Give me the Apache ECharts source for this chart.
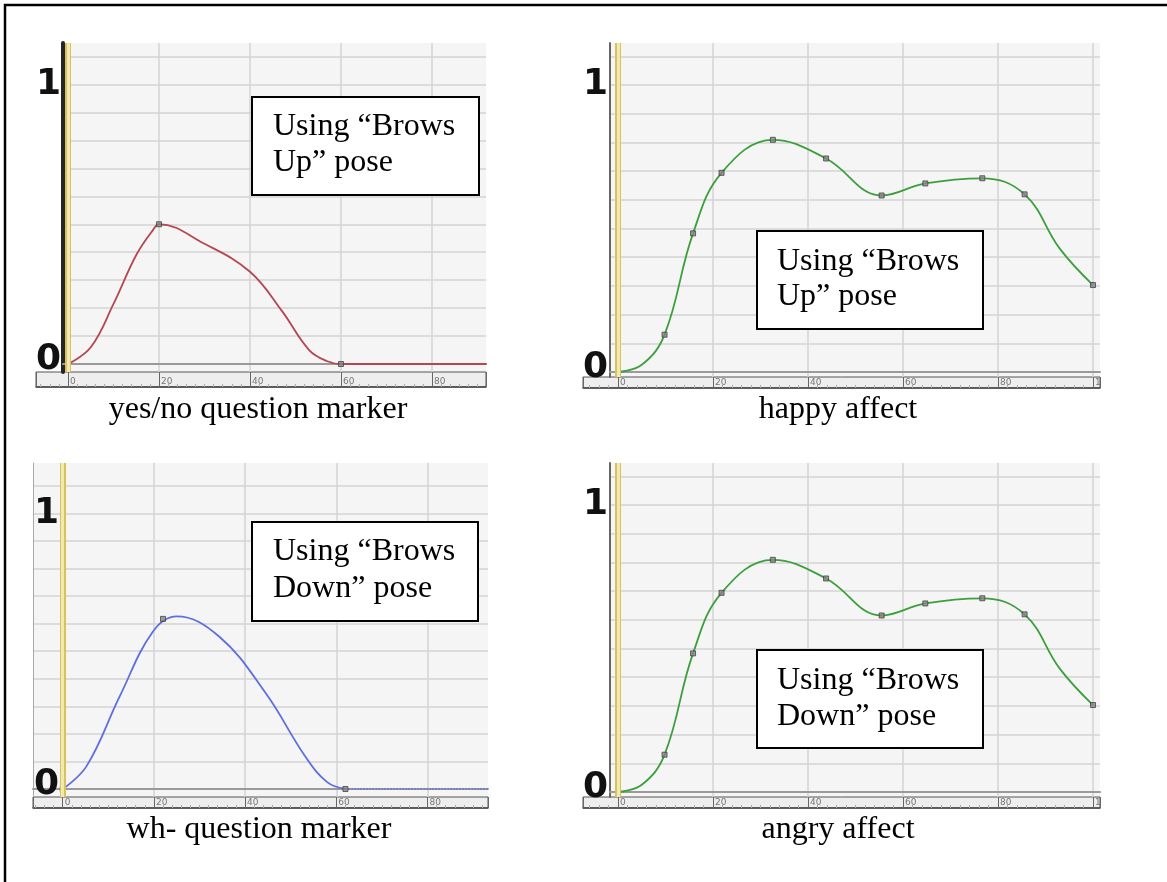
<!DOCTYPE html>
<html><head><meta charset="utf-8">
<script src="https://cdn.jsdelivr.net/npm/echarts@6/dist/echarts.min.js"></script>
<style>html,body{margin:0;padding:0;background:#fff}#c{width:1167px;height:882px}</style>
</head><body><div id="c"></div>
<script>
// ---------- data ----------
const yesNoX = [0, 5, 10, 15, 18.7, 20, 30, 40, 47, 53, 57, 60, 92];
const yesNoY = [0, 0.06, 0.215, 0.39, 0.48, 0.50, 0.43, 0.33, 0.19, 0.05, 0.01, 0, 0];
const yesNoKeyX = [0, 20, 60];
const yesNoKeyY = [0, 0.5, 0];

const whX = [0, 5.2, 12.5, 19.8, 25, 34.3, 44.5, 53.2, 58, 62];
const whY = [0, 0.082, 0.336, 0.571, 0.626, 0.553, 0.348, 0.118, 0.025, 0];
const whKeyX = [0, 22, 62];
const whKeyY = [0, 0.617, 0];
const whTailX = [62, 93.3];
const whTailY = [0, 0];

const happyX = [0, 5, 9.8, 15.8, 21.8, 32.6, 43.8, 55.5, 64.7, 76.7, 85.6, 93, 100];
const happyY = [0, 0.025, 0.13, 0.483, 0.694, 0.809, 0.744, 0.615, 0.657, 0.675, 0.619, 0.43, 0.303];
const happyKeyX = [0, 9.8, 15.8, 21.8, 32.6, 43.8, 55.5, 64.7, 76.7, 85.6, 100];
const happyKeyY = [0, 0.13, 0.483, 0.694, 0.809, 0.744, 0.615, 0.657, 0.675, 0.619, 0.303];

const angryX = [0, 5, 9.8, 15.8, 21.8, 32.6, 43.8, 55.5, 64.7, 76.7, 85.6, 93, 100];
const angryY = [0, 0.025, 0.13, 0.483, 0.694, 0.809, 0.744, 0.615, 0.657, 0.675, 0.619, 0.43, 0.303];
const angryKeyX = [0, 9.8, 15.8, 21.8, 32.6, 43.8, 55.5, 64.7, 76.7, 85.6, 100];
const angryKeyY = [0, 0.13, 0.483, 0.694, 0.809, 0.744, 0.615, 0.657, 0.675, 0.619, 0.303];

const rulerTicks = [0, 20, 40, 60, 80, 100];
const yTickLabels = ['0', '1'];
const captions = ['yes/no question marker', 'happy affect', 'wh- question marker', 'angry affect'];
const boxLines = [['Using \u201cBrows', 'Up\u201d pose'], ['Using \u201cBrows', 'Up\u201d pose'],
                  ['Using \u201cBrows', 'Down\u201d pose'], ['Using \u201cBrows', 'Down\u201d pose']];

// ---------- layout (pixels) ----------
const zip = (xs, ys) => xs.map((x, i) => [x, ys[i]]);
const panels = [
  { xs: yesNoX, ys: yesNoY, kx: yesNoKeyX, ky: yesNoKeyY, color: '#b5474e',
    main: { l: 63, t: 43, r: 486, b: 372 }, ruler: { l: 36, t: 372, h: 15 },
    x0: 68, ppx: 4.55, y0: 364, y1: 84.5, bar: { color: '#262626', width: 4 }, inside: false,
    box: { x: 252, y: 97, w: 227, h: 98, tx: 273, l1: 127, l2: 163 }, cap: { x: 258, y: 410 } },
  { xs: happyX, ys: happyY, kx: happyKeyX, ky: happyKeyY, color: '#3c9f3c',
    main: { l: 610, t: 43, r: 1100, b: 377 }, ruler: { l: 583, t: 377, h: 11 },
    x0: 618, ppx: 4.75, y0: 372, y1: 85, bar: { color: '#666', width: 2 }, inside: false,
    box: { x: 757, y: 231, w: 226, h: 98, tx: 777, l1: 262, l2: 297 }, cap: { x: 838, y: 410 } },
  { xs: whX, ys: whY, kx: whKeyX, ky: whKeyY, color: '#5d6fe0', tail: zip(whTailX, whTailY),
    main: { l: 33, t: 463, r: 488, b: 797 }, ruler: { l: 33, t: 797, h: 11 },
    x0: 62.7, ppx: 4.56, y0: 789, y1: 513.3, bar: { color: '#aaa', width: 1 }, inside: true,
    box: { x: 252, y: 522, w: 226, h: 99, tx: 273, l1: 552, l2: 589 }, cap: { x: 259, y: 830 } },
  { xs: angryX, ys: angryY, kx: angryKeyX, ky: angryKeyY, color: '#3c9f3c',
    main: { l: 610, t: 463, r: 1100, b: 797 }, ruler: { l: 583, t: 797, h: 11 },
    x0: 618, ppx: 4.75, y0: 792, y1: 505, bar: { color: '#666', width: 2 }, inside: false,
    box: { x: 757, y: 650, w: 226, h: 98, tx: 777, l1: 681, l2: 717 }, cap: { x: 838, y: 830 } }
];

const grid = [], xAxis = [], yAxis = [], series = [], graphic = [];
const near = (a, b) => Math.abs(a - b) < 1e-9;
const FONT = '32px "Liberation Serif"';

panels.forEach((p, i) => {
  const m = p.main, ppy = p.y0 - p.y1;
  const xmin = (m.l - p.x0) / p.ppx, xmax = (m.r - p.x0) / p.ppx;
  const ymin = -(m.b - p.y0) / ppy, ymax = (p.y0 - m.t) / ppy;
  const rxmin = (p.ruler.l - p.x0) / p.ppx;
  grid.push({ left: m.l, top: m.t, width: m.r - m.l, height: m.b - m.t, show: true,
              backgroundColor: '#f5f5f5', borderWidth: 0 });
  grid.push({ left: p.ruler.l, top: p.ruler.t, width: m.r - p.ruler.l, height: p.ruler.h, show: true,
              backgroundColor: '#eeeeee', borderColor: '#555', borderWidth: 1 });
  xAxis.push({ gridIndex: 2 * i, type: 'value', min: xmin, max: xmax, splitNumber: 5, minInterval: 20, maxInterval: 20,
    axisLine: { show: true, onZero: true, lineStyle: { color: '#9a9a9a', width: 2 } },
    axisTick: { show: false }, axisLabel: { show: false },
    splitLine: { show: true, showMinLine: false, showMaxLine: false, lineStyle: { color: '#d3d3d3', width: 1.5 } } });
  xAxis.push({ gridIndex: 2 * i + 1, type: 'value', min: rxmin, max: xmax, splitNumber: 5, minInterval: 20, maxInterval: 20,
    axisLine: { show: true, onZero: false, lineStyle: { color: '#444', width: 1.5 } },
    axisTick: { show: true, inside: true, length: p.ruler.h, lineStyle: { color: '#666', width: 1 } },
    minorTick: { show: true, splitNumber: 10, length: 3, lineStyle: { color: '#aaa', width: 1 } },
    splitLine: { show: false },
    axisLabel: { show: true, inside: true, margin: 1, fontSize: 9, color: '#777', align: 'left', padding: [0, 0, 0, 2],
      fontFamily: 'DejaVu Sans',
      formatter: v => { const t = rulerTicks.find(r => near(r, v)); return t === undefined ? '' : (t === 100 ? '1' : String(t)); } } });
  yAxis.push({ gridIndex: 2 * i, type: 'value', min: ymin, max: ymax, splitNumber: 12, minInterval: 0.1, maxInterval: 0.1,
    axisLine: { show: true, onZero: false, lineStyle: { color: p.bar.color, width: p.bar.width } },
    axisTick: { show: false },
    splitLine: { show: true, showMinLine: false, showMaxLine: false, lineStyle: { color: '#d3d3d3', width: 1.5 } },
    axisLabel: { show: true, inside: p.inside, margin: p.inside ? 1 : 2,
      formatter: v => near(v, 1) ? '{one|' + yTickLabels[1] + '}' : (near(v, 0) ? '{zero|' + yTickLabels[0] + '}' : ''),
      rich: {
        one: { fontSize: 36, fontWeight: 'bold', fontFamily: 'DejaVu Sans', color: '#111' },
        zero: { fontSize: 36, fontWeight: 'bold', fontFamily: 'DejaVu Sans', color: '#111', padding: [0, 0, 9, 0] }
      } } });
  yAxis.push({ gridIndex: 2 * i + 1, type: 'value', min: 0, max: 1, show: false });

  series.push({ type: 'line', xAxisIndex: 2 * i, yAxisIndex: 2 * i, data: zip(p.xs, p.ys), smooth: 0.4,
    showSymbol: false, lineStyle: { color: p.color, width: 1.8 }, z: 3,
    markLine: { silent: true, symbol: ['none', 'none'], label: { show: false }, animation: false,
      data: [ { xAxis: 0, lineStyle: { color: '#d8c25a', width: 6, type: 'solid' } },
              { xAxis: 0, lineStyle: { color: '#f2e8b2', width: 3, type: 'solid' } } ] } });
  series.push({ type: 'scatter', xAxisIndex: 2 * i, yAxisIndex: 2 * i, data: zip(p.kx, p.ky), symbol: 'rect', symbolSize: 5,
    itemStyle: { color: '#858585', borderColor: '#444', borderWidth: 1 }, z: 4 });
  if (p.tail) {
    series.push({ type: 'line', xAxisIndex: 2 * i, yAxisIndex: 2 * i, data: p.tail, showSymbol: false,
      lineStyle: { color: p.color, width: 1.5, type: 'dotted' }, z: 3 });
  }

  graphic.push({ type: 'rect', z: 100, shape: { x: p.box.x, y: p.box.y, width: p.box.w, height: p.box.h },
    style: { fill: '#fff', stroke: '#000', lineWidth: 2 } });
  [p.box.l1, p.box.l2].forEach((ly, k) => graphic.push({ type: 'text', z: 101,
    style: { text: boxLines[i][k], x: p.box.tx, y: ly, font: FONT, fill: '#000',
             textAlign: 'left', textVerticalAlign: 'middle' } }));
  graphic.push({ type: 'text', z: 101, style: { text: captions[i], x: p.cap.x, y: p.cap.y,
    font: FONT, fill: '#000', textAlign: 'center', textVerticalAlign: 'middle' } });
});

graphic.push({ type: 'rect', z: 100, shape: { x: 5, y: 5, width: 1300, height: 1000 },
  style: { fill: 'none', stroke: '#000', lineWidth: 2.5 } });

const chart = echarts.init(document.getElementById('c'), null, { renderer: 'canvas' });
chart.setOption({ animation: false, backgroundColor: '#fff', grid, xAxis, yAxis, series, graphic });
</script></body></html>
